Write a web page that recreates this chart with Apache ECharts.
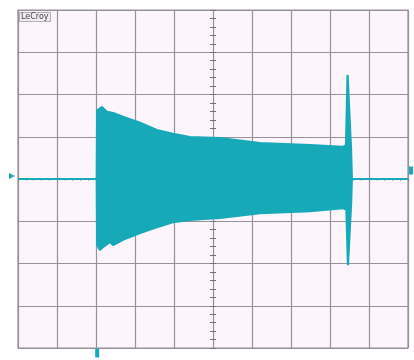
<!DOCTYPE html>
<html><head><meta charset="utf-8">
<script src="https://cdn.jsdelivr.net/npm/echarts@6/dist/echarts.min.js"></script>
<style>html,body{margin:0;padding:0;background:#fff}#c{width:414px;height:360px}</style>
</head><body><div id="c"></div><script>
// time in divisions (0..10), amplitude in divisions (-4..4)
const upperTime = [0, 2.02, 2.03, 2.15, 2.28, 2.44, 2.69, 3.13, 3.56, 3.97, 4.41, 5.18, 6.21, 7.49, 8.33, 8.41, 8.45, 8.50, 8.54, 8.56, 10];
const upperAmp  = [0, 0,    1.62, 1.70, 1.59, 1.56, 1.47, 1.33, 1.16, 1.07, 0.99, 0.97, 0.85, 0.80, 0.76, 0.80, 2.46, 2.46, 0.70, 0,    0];
const lowerTime = [0, 2.02, 2.03, 2.10, 2.18, 2.36, 2.44, 2.69, 3.13, 3.56, 3.97, 4.41, 5.18, 6.21, 7.49, 8.33, 8.42, 8.46, 8.51, 8.54, 8.56, 10];
const lowerAmp  = [0, 0,   -1.55,-1.68,-1.61,-1.49,-1.56,-1.44,-1.28,-1.14,-1.02,-0.97,-0.92,-0.81,-0.76,-0.69,-0.72,-2.04,-2.04,-0.60, 0,    0];
const triggerTime = 2.03;
const xTickLabels = [];
const yTickLabels = [];

const teal = '#17a9b8';
const gridCol = '#97919a';
const upper = upperTime.map((t, i) => [t, upperAmp[i]]);
const lower = lowerTime.map((t, i) => [t, lowerAmp[i]]);

const chart = echarts.init(document.getElementById('c'), null, {renderer: 'canvas'});
const hidden = {show: false};
chart.setOption({
  animation: false,
  backgroundColor: '#ffffff',
  title: {
    text: 'LeCroy', left: 19, top: 12, padding: [1, 2],
    borderColor: '#8a848a', borderWidth: 0.6, backgroundColor: '#f1ecf1',
    textStyle: {fontSize: 8, fontWeight: 'normal', color: '#4a464a', fontFamily: 'DejaVu Sans'}
  },
  grid: {left: 18, top: 10, width: 390, height: 338, show: true,
         backgroundColor: '#fcf6fc', borderColor: gridCol, borderWidth: 1.2},
  xAxis: [
    {type: 'value', min: 0, max: 10, interval: 1,
     axisLine: hidden, axisTick: hidden, axisLabel: hidden,
     splitLine: {show: true, lineStyle: {color: gridCol, width: 1.2}}},
    {type: 'value', min: 0, max: 10, interval: 0.2, position: 'bottom', offset: -169,
     axisLine: hidden, axisTick: {show: true, length: 1.5, inside: false, lineStyle: {color: '#5a7a80'}},
     axisLabel: hidden, splitLine: hidden}
  ],
  yAxis: [
    {type: 'value', min: -4, max: 4, interval: 1,
     axisLine: hidden, axisTick: hidden, axisLabel: hidden,
     splitLine: {show: true, lineStyle: {color: gridCol, width: 1.2}}},
    {type: 'value', min: -4, max: 4, interval: 0.2, position: 'left', offset: -195,
     axisLine: hidden, axisTick: {show: true, length: 3, inside: false, lineStyle: {color: '#7a747a'}},
     axisLabel: hidden, splitLine: hidden},
    {type: 'value', min: -4, max: 4, interval: 0.2, position: 'left', offset: -195,
     axisLine: hidden, axisTick: {show: true, length: 3, inside: true, lineStyle: {color: '#7a747a'}},
     axisLabel: hidden, splitLine: hidden}
  ],
  series: [
    {type: 'line', data: upper, symbol: 'none', z: 1,
     lineStyle: {color: teal, width: 2.2}, areaStyle: {color: teal, opacity: 1, origin: 0},
     markPoint: {
       symbol: 'rect', silent: true, label: hidden,
       data: [
         {coord: [triggerTime, -4], symbol: 'rect', symbolSize: [4, 9], symbolOffset: [0, 5], itemStyle: {color: teal}},
         {coord: [0, 0], symbol: 'triangle', symbolRotate: -90, symbolSize: [6, 6], symbolOffset: [-6, -3], itemStyle: {color: teal}},
         {coord: [10, 0.2], symbol: 'rect', symbolSize: [4, 8], symbolOffset: [3, 0], itemStyle: {color: teal}}
       ]
     }},
    {type: 'line', data: lower, symbol: 'none', z: 1,
     lineStyle: {color: teal, width: 2.2}, areaStyle: {color: teal, opacity: 1, origin: 0}}
  ]
});
</script></body></html>
